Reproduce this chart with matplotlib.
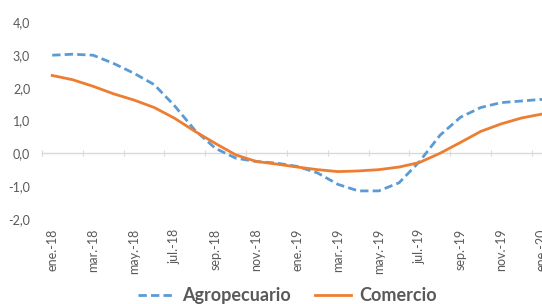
import matplotlib
matplotlib.use("Agg")
import matplotlib.pyplot as plt
import numpy as np
from matplotlib.ticker import FixedLocator, FuncFormatter

months = ["ene.-18", "feb.-18", "mar.-18", "abr.-18", "may.-18", "jun.-18",
          "jul.-18", "ago.-18", "sep.-18", "oct.-18", "nov.-18", "dic.-18",
          "ene.-19", "feb.-19", "mar.-19", "abr.-19", "may.-19", "jun.-19",
          "jul.-19", "ago.-19", "sep.-19", "oct.-19", "nov.-19", "dic.-19",
          "ene.-20"]
agropecuario = [3.0, 3.03, 3.0, 2.75, 2.45, 2.1, 1.45, 0.7, 0.15, -0.15,
                -0.25, -0.3, -0.4, -0.6, -0.95, -1.15, -1.15, -0.9, -0.25,
                0.55, 1.1, 1.4, 1.55, 1.6, 1.65]
comercio = [2.38, 2.25, 2.05, 1.82, 1.63, 1.4, 1.07, 0.67, 0.3, -0.05,
            -0.25, -0.33, -0.42, -0.5, -0.56, -0.54, -0.5, -0.42, -0.28,
            0.0, 0.33, 0.67, 0.9, 1.08, 1.2]

plt.rcParams["font.family"] = ["Lato", "DejaVu Sans"]
grey = "#595959"
axis_grey = "#D9D9D9"

fig = plt.figure(figsize=(5.42, 3.04), dpi=100)
ax = fig.add_axes([42 / 542, 0.2806, 1 - 42 / 542, 0.6454])

x = np.arange(len(months))
ax.plot(x, agropecuario, color="#5B9BD5", lw=2.0, linestyle=(0, (3, 1.5)),
        label="Agropecuario", solid_capstyle="butt")
ax.plot(x, comercio, color="#ED7D31", lw=2.0, label="Comercio")

ax.set_xlim(-0.5, 24.0)
ax.set_ylim(-2, 4)
for s in ax.spines.values():
    s.set_visible(False)

ax.set_yticks(np.arange(-2, 5, 1))
ax.yaxis.set_major_formatter(FuncFormatter(lambda v, p: f"{v:.1f}".replace(".", ",")))
ax.tick_params(axis="y", length=0, pad=8.5, labelsize=9, labelcolor=grey)

ax.set_xticks(x[::2])
ax.set_xticklabels(months[::2], rotation=90)
ax.tick_params(axis="x", length=0, pad=7, labelsize=9, labelcolor=grey)

# category axis crossing at zero
sec = ax.secondary_xaxis(1 / 3)
sec.spines["bottom"].set_color(axis_grey)
sec.spines["bottom"].set_linewidth(1.0)
sec.xaxis.set_major_locator(FixedLocator(np.arange(-0.5, 25, 2)))
sec.tick_params(axis="x", direction="inout", length=5, color=axis_grey,
                labelbottom=False, labeltop=False)
sec.spines["top"].set_visible(False)

fig.legend(loc="center", bbox_to_anchor=(0.53, 0.027), ncol=2, frameon=False,
           handlelength=2.0, columnspacing=1.3, handletextpad=0.45,
           prop={"size": 13, "weight": "bold"}, labelcolor=grey)

fig.savefig("out.png", dpi=100)
